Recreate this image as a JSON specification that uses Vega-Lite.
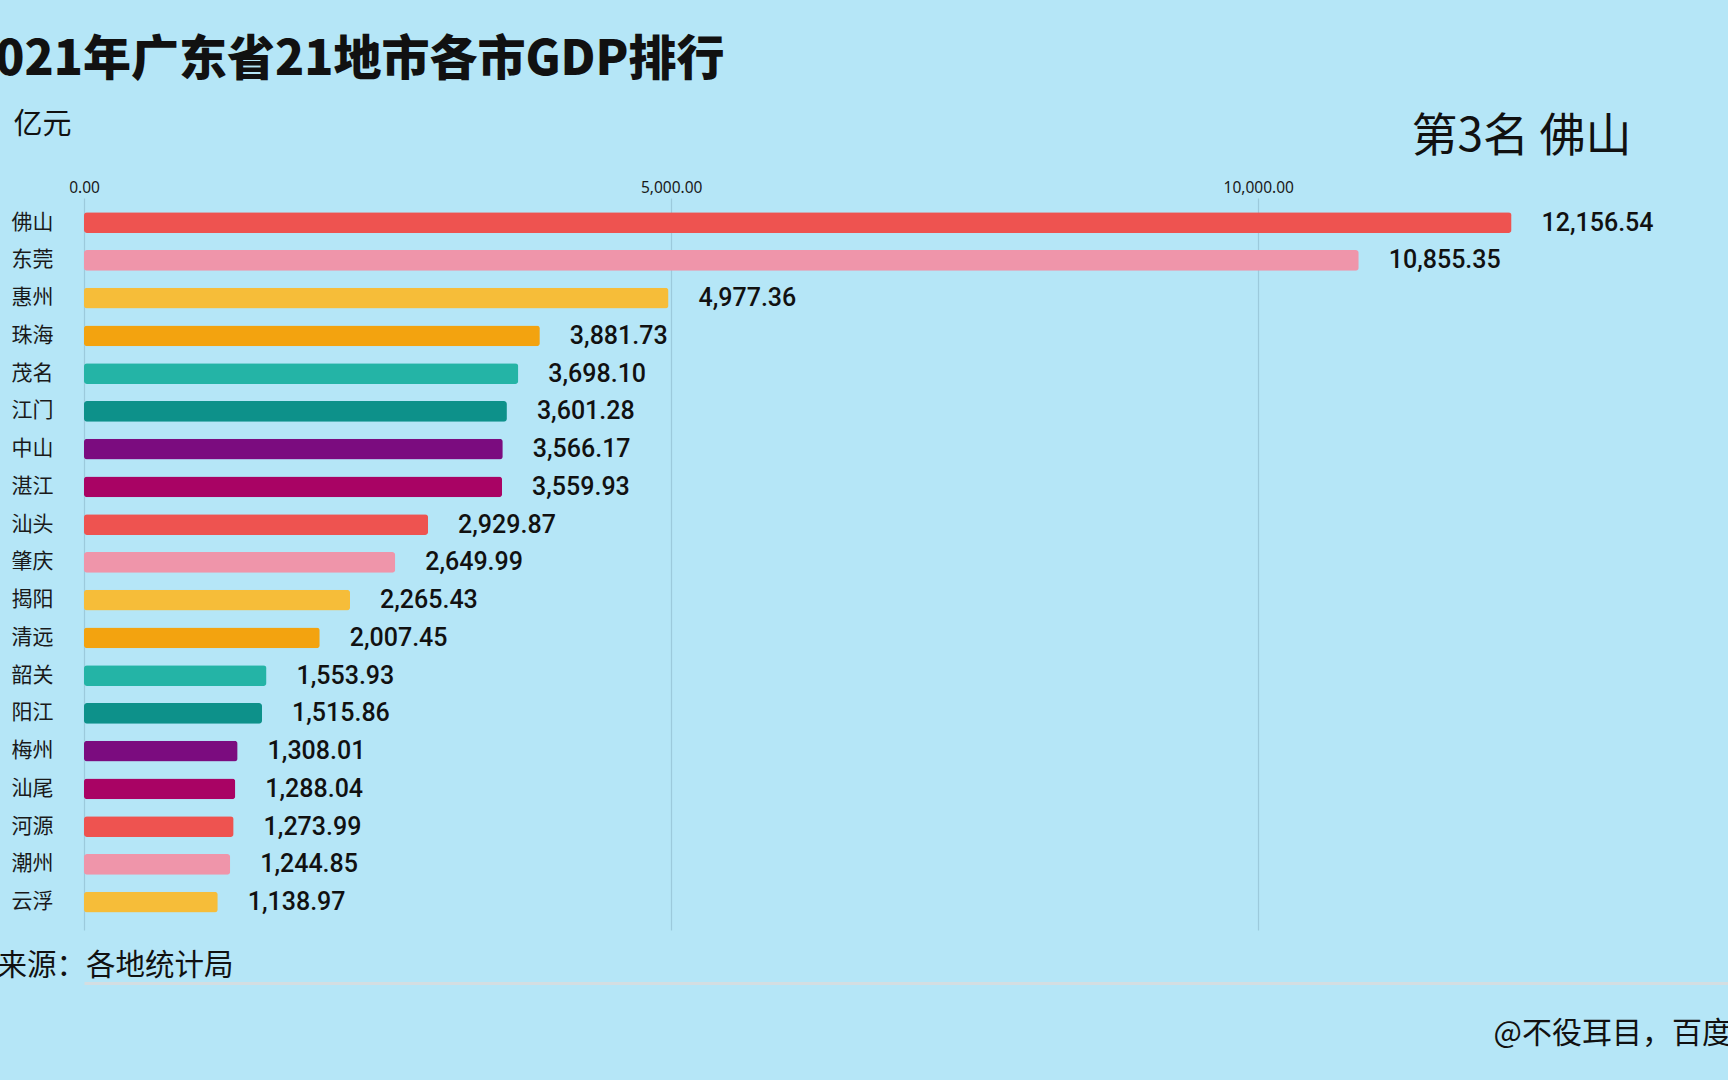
{
  "$schema": "https://vega.github.io/schema/vega-lite/v6.json",
  "autosize": {"type": "none"},
  "padding": {"left": 84, "top": 198, "right": 0, "bottom": 150},
  "width": 1644,
  "height": 732,
  "background": "#B5E6F7",
  "title": {
    "text": "2021年广东省21地市各市GDP排行",
    "anchor": "start",
    "frame": "group",
    "font": "Noto Sans CJK SC",
    "fontSize": 48,
    "fontWeight": 900,
    "color": "#111111",
    "dx": -118,
    "offset": 25
  },
  "config": {
    "view": {"stroke": null},
    "font": "Noto Sans CJK SC"
  },
  "data": {
    "values": [
      {"city": "佛山", "gdp": 12156.54},
      {"city": "东莞", "gdp": 10855.35},
      {"city": "惠州", "gdp": 4977.36},
      {"city": "珠海", "gdp": 3881.73},
      {"city": "茂名", "gdp": 3698.10},
      {"city": "江门", "gdp": 3601.28},
      {"city": "中山", "gdp": 3566.17},
      {"city": "湛江", "gdp": 3559.93},
      {"city": "汕头", "gdp": 2929.87},
      {"city": "肇庆", "gdp": 2649.99},
      {"city": "揭阳", "gdp": 2265.43},
      {"city": "清远", "gdp": 2007.45},
      {"city": "韶关", "gdp": 1553.93},
      {"city": "阳江", "gdp": 1515.86},
      {"city": "梅州", "gdp": 1308.01},
      {"city": "汕尾", "gdp": 1288.04},
      {"city": "河源", "gdp": 1273.99},
      {"city": "潮州", "gdp": 1244.85},
      {"city": "云浮", "gdp": 1138.97}
    ]
  },
  "encoding": {
    "y": {
      "field": "city",
      "type": "nominal",
      "sort": "-x",
      "scale": {"paddingInner": 0.45, "paddingOuter": 0.42, "align": 0.45}
    },
    "x": {
      "field": "gdp",
      "type": "quantitative",
      "scale": {"domain": [0, 14000], "nice": false}
    }
  },
  "layer": [
    {
      "mark": {"type": "bar", "cornerRadius": 3},
      "encoding": {
        "x": {
          "field": "gdp",
          "type": "quantitative",
          "scale": {"domain": [0, 14000], "nice": false},
          "axis": {
            "orient": "top",
            "values": [0, 5000, 10000],
            "format": ",.2f",
            "labelFont": "Noto Sans",
            "labelFontSize": 15.5,
            "labelFlush": false,
            "labelColor": "#1a1a1a",
            "labelPadding": 3,
            "ticks": false,
            "domain": false,
            "grid": true,
            "gridColor": "#9CCADC",
            "gridWidth": 1.2,
            "title": "第3名 佛山",
            "titleFont": "Noto Sans CJK SC",
            "titleFontSize": 46,
            "titleFontWeight": "normal",
            "titleColor": "#111111",
            "titleX": 1437,
            "titleY": -62,
            "titleAlign": "center",
            "titleBaseline": "middle"
          }
        },
        "y": {
          "field": "city",
          "type": "nominal",
          "sort": "-x",
          "axis": {
            "labelFontSize": 21,
            "labelColor": "#1a1a1a",
            "labelPadding": 31,
            "ticks": false,
            "domain": false,
            "grid": false,
            "title": "单位：亿元",
            "titleAngle": 0,
            "titleFontSize": 29,
            "titleFontWeight": "normal",
            "titleColor": "#111111",
            "titleAlign": "left",
            "titleBaseline": "middle",
            "titleX": -158,
            "titleY": -74
          }
        },
        "color": {
          "field": "city",
          "type": "nominal",
          "legend": null,
          "scale": {
            "domain": ["佛山","东莞","惠州","珠海","茂名","江门","中山","湛江","汕头","肇庆","揭阳","清远","韶关","阳江","梅州","汕尾","河源","潮州","云浮"],
            "range": ["#EE5350","#EF95AA","#F6BD39","#F3A30F","#24B4A6","#0D918A","#7B0C7F","#A90364","#EE5350","#EF95AA","#F6BD39","#F3A30F","#24B4A6","#0D918A","#7B0C7F","#A90364","#EE5350","#EF95AA","#F6BD39"]
          }
        }
      }
    },
    {
      "mark": {"type": "text", "align": "left", "baseline": "middle", "dx": 30, "font": "Roboto", "fontSize": 25, "fontWeight": 500, "color": "#111111"},
      "encoding": {
        "text": {"field": "gdp", "type": "quantitative", "format": ",.2f"},
        "x": {
          "field": "gdp",
          "type": "quantitative",
          "scale": {"domain": [0, 14000], "nice": false},
          "axis": {
            "orient": "bottom",
            "offset": 53,
            "labels": false,
            "ticks": false,
            "grid": false,
            "domain": true,
            "domainColor": "#D4DEE2",
            "domainWidth": 3,
            "title": "@不役耳目，百度",
            "titleFontSize": 30,
            "titleFontWeight": "normal",
            "titleColor": "#111111",
            "titleAlign": "left",
            "titleBaseline": "middle",
            "titleX": 1409,
            "titleY": 50
          }
        },
        "y": {
          "field": "city",
          "type": "nominal",
          "sort": "-x",
          "axis": {
            "orient": "right",
            "labels": false,
            "ticks": false,
            "domain": false,
            "grid": false,
            "title": "数据来源：各地统计局",
            "titleAngle": 0,
            "titleFontSize": 29.5,
            "titleFontWeight": "normal",
            "titleColor": "#111111",
            "titleAlign": "left",
            "titleBaseline": "middle",
            "titleX": -1790,
            "titleY": 767
          }
        }
      }
    }
  ],
  "resolve": {"axis": {"x": "independent", "y": "independent"}}
}
